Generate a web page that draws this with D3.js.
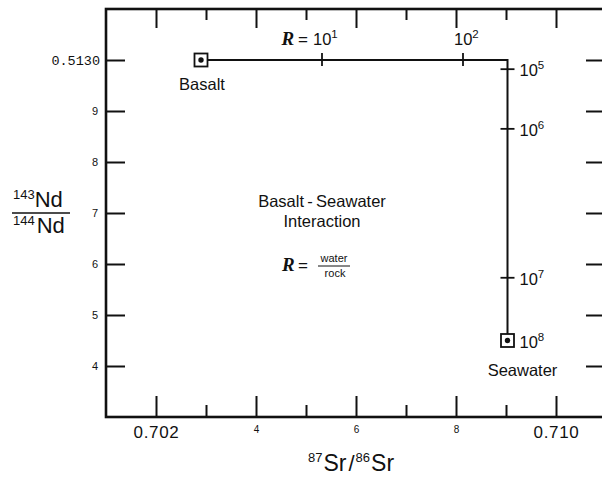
<!DOCTYPE html>
<html><head><meta charset="utf-8">
<script src="https://cdn.jsdelivr.net/npm/d3@7"></script>
<style>body{margin:0;background:#fff}svg{display:block}</style>
</head><body><svg id="c" width="602" height="477"></svg>
<script>
// ---- data ----
const xTickValues = [0.702, 0.704, 0.706, 0.708, 0.710];
const xTickLabels = ["0.702", "4", "6", "8", "0.710"];
const xMinorTicks = [0.703, 0.705, 0.707, 0.709];
const yTickValues = [0.5130, 0.5129, 0.5128, 0.5127, 0.5126, 0.5125, 0.5124];
const yTickLabels = ["0.5130", "9", "8", "7", "6", "5", "4"];
const curveSr = [0.7029, 0.70532, 0.70814, 0.70903, 0.70903, 0.70903, 0.70903, 0.70903];
const curveNd = [0.51300, 0.51300, 0.51300, 0.51300, 0.512982, 0.512865, 0.512573, 0.51245];
const tickExp = [1, 2, 5, 6, 7, 8];
const tickSr = [0.70532, 0.70814, 0.70903, 0.70903, 0.70903, 0.70903];
const tickNd = [0.51300, 0.51300, 0.512982, 0.512865, 0.512573, 0.51245];
const endNames = ["Basalt", "Seawater"];
const endSr = [0.7029, 0.70903];
const endNd = [0.51300, 0.51245];

const SANS = "'Liberation Sans', Arial, Helvetica, sans-serif";
const INK = "#111";
const svg = d3.select("#c");
const x = d3.scaleLinear().domain([0.701, 0.711]).range([106, 606]);
const y = d3.scaleLinear().domain([0.5123, 0.5131]).range([417, 9]);

function clean(g){ g.select(".domain").remove(); g.selectAll("line").attr("stroke", INK).attr("stroke-width", 2); }

// bottom axis
const gb = svg.append("g").attr("transform", `translate(0,${y(0.5123)})`)
  .call(d3.axisBottom(x).tickValues(xTickValues).tickFormat((d,i)=>xTickLabels[i]).tickSize(-21).tickPadding(9));
clean(gb);
gb.selectAll("text").attr("fill", INK).style("font-family", SANS)
  .style("font-size", (d,i)=> (i===0||i===xTickValues.length-1) ? "17px" : "10px")
  .style("letter-spacing", (d,i)=> (i===0||i===xTickValues.length-1) ? "0.7px" : "0");
const gbm = svg.append("g").attr("transform", `translate(0,${y(0.5123)})`)
  .call(d3.axisBottom(x).tickValues(xMinorTicks).tickFormat("").tickSize(-12));
clean(gbm);
// top axis
const gt = svg.append("g").attr("transform", `translate(0,${y(0.5131)})`)
  .call(d3.axisTop(x).tickValues(xTickValues).tickFormat("").tickSize(-19));
clean(gt);
const gtm = svg.append("g").attr("transform", `translate(0,${y(0.5131)})`)
  .call(d3.axisTop(x).tickValues(xMinorTicks).tickFormat("").tickSize(-11));
clean(gtm);
// left axis
const gl = svg.append("g").attr("transform", `translate(${x(0.701)},0)`)
  .call(d3.axisLeft(y).tickValues(yTickValues).tickFormat((d,i)=>yTickLabels[i]).tickSize(-19).tickPadding(8));
clean(gl);
gl.selectAll("text").attr("fill", INK)
  .style("font-family", (d,i)=> i===0 ? "'Liberation Mono', 'Courier New', monospace" : SANS)
  .style("font-size", (d,i)=> i===0 ? "13.5px" : "11px")
  .attr("x", (d,i)=> i===0 ? -6 : -8);
// right axis
const gr = svg.append("g").attr("transform", `translate(${x(0.711)},0)`)
  .call(d3.axisRight(y).tickValues(yTickValues).tickFormat("").tickSize(-20));
clean(gr);

// frame
svg.append("rect").attr("x", x(0.701)).attr("y", y(0.5131))
  .attr("width", x(0.711)-x(0.701)).attr("height", y(0.5123)-y(0.5131))
  .attr("fill", "none").attr("stroke", INK).attr("stroke-width", 2.6);

// mixing curve
const pts = curveSr.map((s,i)=>[s, curveNd[i]]);
svg.append("path").datum(pts)
  .attr("d", d3.line().x(d=>x(d[0])).y(d=>y(d[1])))
  .attr("fill", "none").attr("stroke", INK).attr("stroke-width", 2);

// R ticks and labels
tickExp.forEach((e,i)=>{
  const px = x(tickSr[i]), py = y(tickNd[i]);
  const horiz = tickNd[i] === curveNd[0];
  if (i < tickExp.length-1) {
    if (horiz) svg.append("line").attr("x1",px).attr("x2",px).attr("y1",py-7).attr("y2",py+6)
      .attr("stroke",INK).attr("stroke-width",1.8);
    else svg.append("line").attr("x1",px-7).attr("x2",px+7).attr("y1",py).attr("y2",py)
      .attr("stroke",INK).attr("stroke-width",1.8);
  }
  const t = svg.append("text").attr("fill", INK).style("font-family", SANS).style("font-size","16.5px");
  if (horiz) t.attr("x", px).attr("y", py-15).attr("text-anchor","start").attr("dx", -9);
  else t.attr("x", px+12).attr("y", py+7);
  t.append("tspan").text("10");
  t.append("tspan").attr("dy", -7).style("font-size","11.5px").text(String(e));
  if (i === 0) {
    const r = svg.append("text").attr("x", px-14).attr("y", py-15).attr("text-anchor","end")
      .attr("fill", INK).style("font-size","17px");
    r.append("tspan").style("font-family","'Liberation Serif','Times New Roman',serif")
      .style("font-style","italic").style("font-weight","bold").style("font-size","19px").text("R");
    r.append("tspan").style("font-family", SANS).attr("dx", 4).text("=");
  }
});

// end-member markers
endNames.forEach((n,i)=>{
  const px = x(endSr[i]), py = y(endNd[i]);
  svg.append("rect").attr("x", px-6.5).attr("y", py-6.5).attr("width",13).attr("height",13)
    .attr("fill","#fff").attr("stroke",INK).attr("stroke-width",1.8);
  svg.append("circle").attr("cx",px).attr("cy",py).attr("r",2.7).attr("fill",INK);
  svg.append("text").attr("x", i===0 ? px+1 : px+15).attr("y", py+ (i===0 ? 30 : 35))
    .attr("text-anchor","middle").attr("fill",INK).style("font-family",SANS).style("font-size","16.5px").text(n);
});

// center annotation
const cx = 322;
svg.append("text").attr("x",cx).attr("y",207).attr("text-anchor","middle").attr("fill",INK)
  .style("font-family",SANS).style("font-size","16.5px").text("Basalt\u2009-\u2009Seawater");
svg.append("text").attr("x",cx).attr("y",227).attr("text-anchor","middle").attr("fill",INK)
  .style("font-family",SANS).style("font-size","16.5px").text("Interaction");
svg.append("text").attr("x",282).attr("y",271).attr("fill",INK)
  .style("font-family","'Liberation Serif','Times New Roman',serif").style("font-style","italic")
  .style("font-weight","bold").style("font-size","19px").text("R");
svg.append("text").attr("x",298).attr("y",271).attr("fill",INK)
  .style("font-family",SANS).style("font-size","17px").text("=");
svg.append("text").attr("x",334).attr("y",262).attr("text-anchor","middle").attr("fill",INK)
  .style("font-family",SANS).style("font-size","11px").text("water");
svg.append("line").attr("x1",318).attr("x2",350).attr("y1",266).attr("y2",266).attr("stroke",INK).attr("stroke-width",1);
svg.append("text").attr("x",335).attr("y",277).attr("text-anchor","middle").attr("fill",INK)
  .style("font-family",SANS).style("font-size","11px").text("rock");

// y-axis title (fraction)
const yt = svg.append("g").attr("fill",INK).style("font-family",SANS);
const num = yt.append("text").attr("x",13).attr("y",207);
num.append("tspan").style("font-size","13px").attr("dy",-8).text("143");
num.append("tspan").style("font-size","22px").attr("dy",8).text("Nd");
yt.append("line").attr("x1",12).attr("x2",70).attr("y1",213).attr("y2",213).attr("stroke",INK).attr("stroke-width",1.4);
const den = yt.append("text").attr("x",13).attr("y",233);
den.append("tspan").style("font-size","13px").attr("dy",-8).text("144");
den.append("tspan").style("font-size","22px").attr("dy",8).attr("dx",2).text("Nd");

// x-axis title
const xt = svg.append("text").attr("x",308).attr("y",471).attr("fill",INK).style("font-family",SANS);
xt.append("tspan").style("font-size","13px").attr("dy",-9).text("87");
xt.append("tspan").style("font-size","23px").attr("dy",9).attr("dx",1).text("Sr");
xt.append("tspan").style("font-size","22px").attr("dx",2).text("/");
xt.append("tspan").style("font-size","13px").attr("dy",-9).attr("dx",1).text("86");
xt.append("tspan").style("font-size","23px").attr("dy",9).attr("dx",1).text("Sr");
</script>
</body></html>
